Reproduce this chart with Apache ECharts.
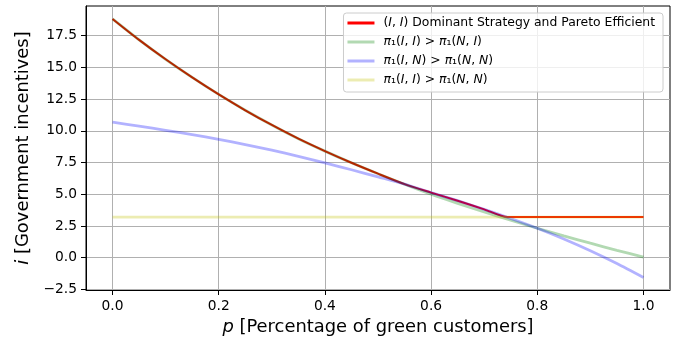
<!DOCTYPE html>
<html><head><meta charset="utf-8">
<script src="https://cdn.jsdelivr.net/npm/echarts@6/dist/echarts.min.js"></script>
<style>html,body{margin:0;padding:0;background:#fff}#c{width:681px;height:345px}</style>
</head><body><div id="c"></div>
<script>
const pValues = [0,0.05,0.1,0.15,0.2,0.25,0.3,0.35,0.4,0.45,0.5,0.55,0.6,0.65,0.7,0.75,0.8,0.85,0.9,0.95,1.0];
const greenValues = [18.82,17.17,15.64,14.21,12.87,11.62,10.46,9.38,8.40,7.48,6.62,5.79,5.00,4.28,3.60,2.95,2.32,1.72,1.14,0.58,0.05];
const blueValues = [10.68,10.37,10.04,9.70,9.33,8.92,8.47,7.99,7.47,6.93,6.37,5.80,5.13,4.49,3.81,3.09,2.32,1.47,0.54,-0.47,-1.57];
const yellowValues = [3.2,3.2,3.2,3.2,3.2,3.2,3.2,3.2,3.2,3.2,3.2,3.2,3.2,3.2,3.2,3.2,3.2,3.2,3.2,3.2,3.2];
const redP = [0,0.05,0.1,0.15,0.2,0.25,0.3,0.35,0.4,0.45,0.5,0.55,0.6,0.65,0.7,0.744,0.75,0.8,0.85,0.9,0.95,1.0];
const redValues = [18.82,17.17,15.64,14.21,12.87,11.62,10.46,9.38,8.40,7.48,6.62,5.80,5.13,4.49,3.81,3.2,3.2,3.2,3.2,3.2,3.2,3.2];
const xTicks = [0,0.2,0.4,0.6,0.8,1.0];
const yTicks = [-2.5,0,2.5,5,7.5,10,12.5,15,17.5];
const seriesNames = ['red','green','blue','yellow'];
const legendLabels = {
  red: '({it|I}, {it|I}) Dominant Strategy and Pareto Efficient',
  green: '{it|π}₁({it|I}, {it|I}) > {it|π}₁({it|N}, {it|I})',
  blue: '{it|π}₁({it|I}, {it|N}) > {it|π}₁({it|N}, {it|N})',
  yellow: '{it|π}₁({it|I}, {it|I}) > {it|π}₁({it|N}, {it|N})'
};

const F = 'DejaVu Sans';
const chart = echarts.init(document.getElementById('c'), null, {renderer:'canvas'});
const zip = (xs, ys) => xs.map((x,i)=>[x, ys[i]]);
const fmtNum = v => (Math.abs(v) < 1e-9 ? 0 : v).toFixed(1).replace('-', '\u2212');
const lineCommon = {type: 'line', showSymbol: false, symbol: 'none', smooth: 0.25};

chart.setOption({
  animation: false,
  backgroundColor: '#fff',
  grid: {left: 86, right: 11, top: 6, bottom: 55, show: true, borderColor: '#000', borderWidth: 1, outerBoundsMode: 'none'},
  xAxis: {
    type: 'value', min: -0.05, max: 1.05,
    name: '{it|p} [Percentage of green customers]',
    nameLocation: 'middle', nameGap: 26,
    nameTextStyle: {fontFamily: F, fontSize: 17.9, color: '#000', rich: {it: {fontFamily: F, fontStyle: 'italic', fontSize: 17.9, color: '#000'}}},
    axisLine: {show: true, onZero: false, lineStyle: {color: '#000', width: 1}},
    axisTick: {show: true, inside: false, length: 5, lineStyle: {color: '#000', width: 1}, customValues: xTicks},
    axisLabel: {show: true, margin: 9, fontFamily: F, fontSize: 13.8, color: '#000', customValues: xTicks, formatter: v => fmtNum(v)},
    splitLine: {show: true, lineStyle: {color: '#b0b0b0', width: 1}}
  },
  yAxis: {
    type: 'value', min: -2.55, max: 19.84,
    name: '{it|i} [Government incentives]',
    nameLocation: 'middle', nameGap: 52, nameRotate: 90,
    nameTextStyle: {fontFamily: F, fontSize: 17.9, color: '#000', rich: {it: {fontFamily: F, fontStyle: 'italic', fontSize: 17.9, color: '#000'}}},
    axisLine: {show: true, onZero: false, lineStyle: {color: '#000', width: 1}},
    axisTick: {show: true, inside: false, length: 5, lineStyle: {color: '#000', width: 1}, customValues: yTicks},
    axisLabel: {show: true, margin: 9, fontFamily: F, fontSize: 13.8, color: '#000', customValues: yTicks, formatter: v => fmtNum(v)},
    splitLine: {show: true, lineStyle: {color: '#b0b0b0', width: 1}}
  },
  legend: {
    data: seriesNames,
    orient: 'vertical', right: 18, top: 13,
    padding: [4, 8, 6, 4],
    itemWidth: 27, itemHeight: 14, itemGap: 7,
    backgroundColor: 'rgba(255,255,255,0.8)', borderColor: '#cccccc', borderWidth: 1, borderRadius: 3,
    icon: 'path://M0,0 L27,0 L27,3 L0,3 Z',
    formatter: name => legendLabels[name],
    textStyle: {fontFamily: F, fontSize: 12.4, color: '#000', padding: [0,0,0,4],
      rich: {it: {fontFamily: F, fontStyle: 'italic', fontSize: 12.4, color: '#000'}}}
  },
  series: [
    Object.assign({name: 'red', data: zip(redP, redValues), lineStyle: {color: '#ff0000', width: 2}, itemStyle: {color: '#ff0000'}, z: 2}, lineCommon),
    Object.assign({name: 'green', data: zip(pValues, greenValues), lineStyle: {color: '#008000', width: 2.8, opacity: 0.3}, itemStyle: {color: 'rgba(0,128,0,0.3)'}, z: 3}, lineCommon),
    Object.assign({name: 'blue', data: zip(pValues, blueValues), lineStyle: {color: '#0000ff', width: 2.8, opacity: 0.3}, itemStyle: {color: 'rgba(0,0,255,0.3)'}, z: 4}, lineCommon),
    Object.assign({name: 'yellow', data: zip(pValues, yellowValues), lineStyle: {color: '#bfbf00', width: 2.8, opacity: 0.3}, itemStyle: {color: 'rgba(191,191,0,0.3)'}, z: 5}, lineCommon)
  ]
});
</script></body></html>
